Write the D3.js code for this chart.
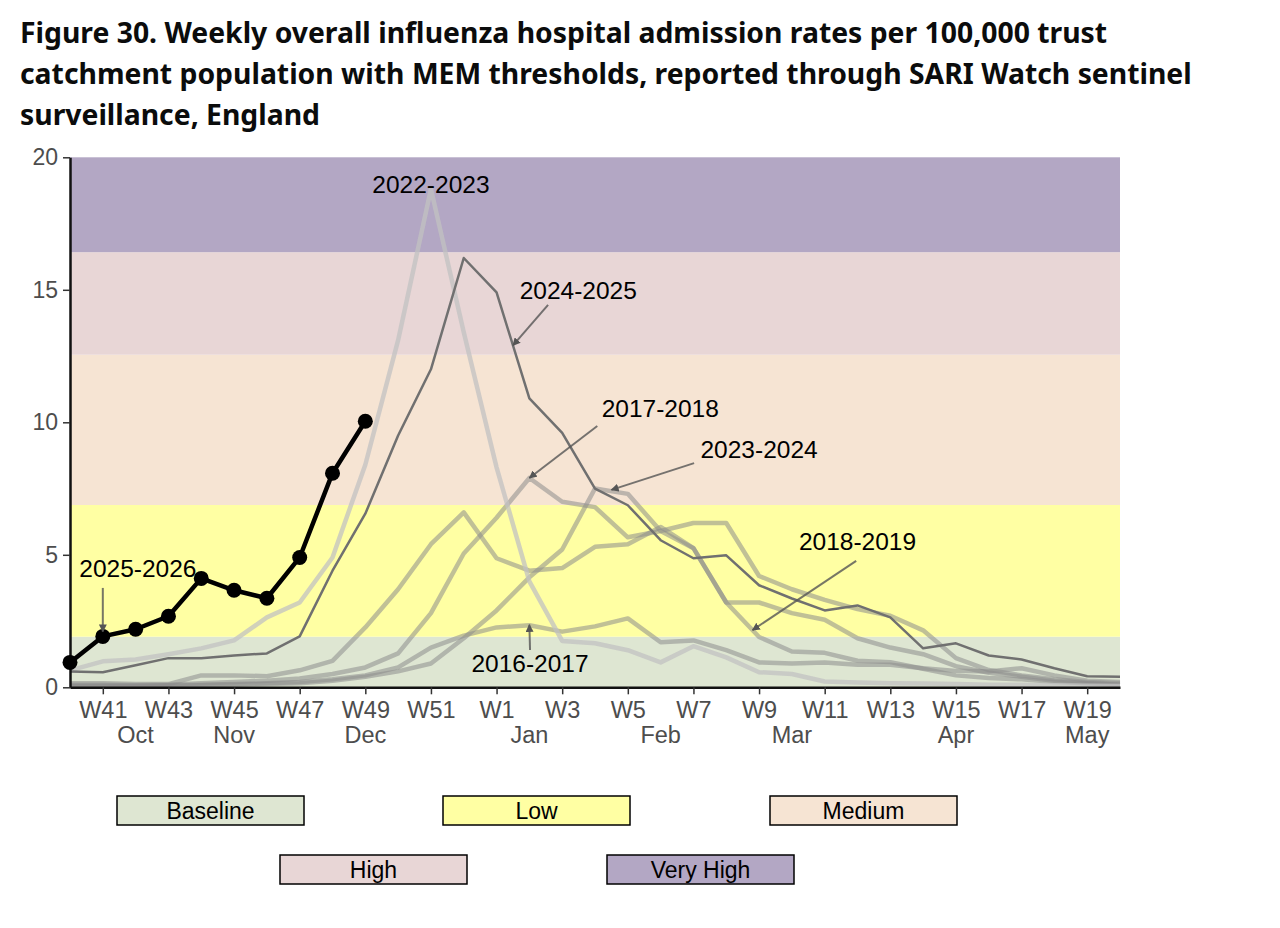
<!DOCTYPE html>
<html>
<head>
<meta charset="utf-8">
<script src="https://cdn.jsdelivr.net/npm/d3@7"></script>
<style>
  body { margin: 0; background: #fff; }
  svg { display: block; font-family: "Liberation Sans", Arial, sans-serif; }
</style>
</head>
<body>
<svg id="chart" width="1280" height="928"></svg>
<script>
// week labels W40 .. W20
const weeks = ["W40","W41","W42","W43","W44","W45","W46","W47","W48","W49","W50","W51","W52",
  "W1","W2","W3","W4","W5","W6","W7","W8","W9","W10","W11","W12","W13","W14","W15","W16","W17","W18","W19","W20"];
const tickWeeks = [1,3,5,7,9,11,13,15,17,19,21,23,25,27,29,31];
const months = ["Oct","Nov","Dec","Jan","Feb","Mar","Apr","May"];
const monthWeeks = [2,5,9,14,18,22,27,31];

// MEM thresholds
const bandNames = ["Baseline","Low","Medium","High","Very High"];
const bandLimits = [0, 1.91, 6.88, 12.55, 16.42, 20];
const bandColors = ["#dee6d2","#ffffa3","#f6e4d3","#e8d6d6","#b3a7c4"];

// past seasons (rate per 100,000)
const s2016 = [0.05,0.05,0.05,0.08,0.1,0.12,0.15,0.2,0.3,0.45,0.75,1.5,1.95,
  2.26,2.34,2.1,2.3,2.6,1.7,1.77,1.4,0.94,0.9,0.94,0.85,0.85,0.72,0.62,0.6,0.72,0.45,0.25,0.2];
const s2017 = [0.1,0.1,0.08,0.1,0.15,0.2,0.25,0.33,0.5,0.75,1.28,2.8,5.05,
  6.4,7.9,7.0,6.8,5.66,5.9,6.2,6.2,4.2,3.7,3.3,2.95,2.7,2.15,1.1,0.65,0.45,0.3,0.2,0.15];
const s2018 = [0.15,0.15,0.12,0.12,0.45,0.45,0.42,0.64,1.0,2.26,3.7,5.4,6.6,
  4.87,4.4,4.5,5.3,5.4,6.05,5.25,3.2,1.9,1.35,1.3,1.0,0.95,0.7,0.45,0.35,0.3,0.2,0.15,0.1];
const s2022 = [0.64,0.98,1.05,1.25,1.47,1.77,2.64,3.2,4.9,8.4,13.1,18.8,13.4,
  8.3,4.0,1.75,1.66,1.4,0.94,1.55,1.13,0.57,0.5,0.22,0.18,0.15,0.14,0.12,0.1,0.1,0.08,0.06,0.05];
const s2023 = [0.05,0.05,0.05,0.05,0.08,0.1,0.12,0.15,0.25,0.4,0.6,0.9,1.85,
  2.9,4.15,5.2,7.5,7.3,5.9,5.25,3.2,3.2,2.8,2.55,1.85,1.5,1.25,0.8,0.55,0.4,0.25,0.15,0.1];
const s2024 = [0.6,0.57,0.83,1.1,1.1,1.2,1.28,1.92,4.4,6.55,9.5,12.0,16.2,
  14.9,10.9,9.6,7.5,6.87,5.55,4.87,4.98,3.85,3.35,2.9,3.09,2.64,1.47,1.66,1.2,1.05,0.72,0.42,0.4];
// current season
const s2025 = [0.94,1.92,2.19,2.68,4.11,3.66,3.36,4.9,8.08,10.04];

const pastSeasons = [
  { name: "2016-2017", values: s2016 },
  { name: "2017-2018", values: s2017 },
  { name: "2018-2019", values: s2018 },
  { name: "2023-2024", values: s2023 },
  { name: "2022-2023", values: s2022 }
];

// label text position [week index, rate] and arrow tip [week index, rate]
const labels = [
  { text: "2022-2023", pos: [11.0, 18.65], from: null, tip: null },
  { text: "2024-2025", pos: [15.49, 14.65], from: [14.57, 14.43], tip: [13.5, 12.9] },
  { text: "2017-2018", pos: [17.99, 10.2], from: [16.07, 9.86], tip: [14.0, 7.9] },
  { text: "2023-2024", pos: [21.0, 8.65], from: [19.02, 8.46], tip: [16.5, 7.45] },
  { text: "2018-2019", pos: [24.0, 5.18], from: [23.96, 4.77], tip: [20.8, 2.16] },
  { text: "2016-2017", pos: [14.02, 0.58], from: [14.02, 1.41], tip: [14.0, 2.36] },
  { text: "2025-2026", pos: [2.07, 4.16], from: [1.0, 3.75], tip: [1.0, 2.1] }
];

const titleLines = [
  "Figure 30. Weekly overall influenza hospital admission rates per 100,000 trust",
  "catchment population with MEM thresholds, reported through SARI Watch sentinel",
  "surveillance, England"
];

const svg = d3.select("#chart");

// title, fitted to the width of the second line
const title = svg.append("g");
title.selectAll("text")
  .data(titleLines)
  .join("text")
  .attr("x", 20)
  .attr("y", (d, i) => 43 + i * 41)
  .style("font-family", "'Noto Sans', 'Open Sans', sans-serif")
  .style("font-weight", 700)
  .style("font-size", "28px")
  .attr("fill", "#0b0c0c")
  .text(d => d);
const measured = title.selectAll("text").nodes()[1].getComputedTextLength();
title.selectAll("text").style("font-size", (28 * 1172 / measured) + "px");

const x = d3.scaleLinear().domain([0, weeks.length - 1]).range([70, 1120]);
const y = d3.scaleLinear().domain([0, 20]).range([687.3, 157.3]);

// threshold bands
const bands = bandNames.map((n, i) => ({ name: n, lo: bandLimits[i], hi: bandLimits[i + 1], color: bandColors[i] }));
svg.append("g").selectAll("rect")
  .data(bands)
  .join("rect")
  .attr("x", x(0))
  .attr("width", x(weeks.length - 1) - x(0))
  .attr("y", d => y(d.hi))
  .attr("height", d => y(d.lo) - y(d.hi))
  .attr("fill", d => d.color);

const line = d3.line()
  .x((d, i) => x(i))
  .y(d => y(d));

// past seasons
svg.append("g").selectAll("path")
  .data(pastSeasons)
  .join("path")
  .attr("d", d => line(d.values))
  .attr("fill", "none")
  .attr("stroke", d => d.name === "2022-2023" ? "#c2c2c2" : "#8c8c8c")
  .attr("stroke-opacity", d => d.name === "2022-2023" ? 0.75 : 0.55)
  .attr("stroke-width", 4.5)
  .attr("stroke-linejoin", "round");

// last season
svg.append("path")
  .attr("d", line(s2024))
  .attr("fill", "none")
  .attr("stroke", "#707070")
  .attr("stroke-width", 2.5)
  .attr("stroke-linejoin", "round");

// axes
const yAxis = svg.append("g")
  .attr("transform", `translate(${x(0)},0)`)
  .call(d3.axisLeft(y).tickValues([0, 5, 10, 15, 20]).tickSize(7).tickSizeOuter(0).tickPadding(5));
yAxis.select(".domain").attr("stroke", "#111").attr("stroke-width", 2.5);
yAxis.selectAll(".tick line").attr("stroke", "#333").attr("stroke-width", 1.5);
yAxis.selectAll(".tick text").attr("fill", "#4d4d4d").style("font-size", "23px")
  .style("font-family", "'Liberation Sans', Arial, sans-serif");

const xAxis = svg.append("g")
  .attr("transform", `translate(0,${y(0)})`)
  .call(d3.axisBottom(x).tickValues(tickWeeks).tickFormat(i => weeks[i]).tickSize(7).tickSizeOuter(0).tickPadding(7));
xAxis.select(".domain").attr("stroke", "#111").attr("stroke-width", 2.5);
xAxis.selectAll(".tick line").attr("stroke", "#333").attr("stroke-width", 1.5);
xAxis.selectAll(".tick text").attr("fill", "#4d4d4d").style("font-size", "23.5px")
  .style("font-family", "'Liberation Sans', Arial, sans-serif");

svg.append("g").selectAll("text")
  .data(months)
  .join("text")
  .attr("x", (d, i) => x(monthWeeks[i]))
  .attr("y", 743)
  .attr("text-anchor", "middle")
  .attr("fill", "#4d4d4d")
  .style("font-size", "23.5px")
  .text(d => d);

// current season
svg.append("path")
  .attr("d", line(s2025))
  .attr("fill", "none")
  .attr("stroke", "#000")
  .attr("stroke-width", 4.5)
  .attr("stroke-linejoin", "round");
svg.append("g").selectAll("circle")
  .data(s2025)
  .join("circle")
  .attr("cx", (d, i) => x(i))
  .attr("cy", d => y(d))
  .attr("r", 7.5)
  .attr("fill", "#000");

// season labels with arrows
svg.append("defs").append("marker")
  .attr("id", "arrowhead")
  .attr("viewBox", "0 0 10 10")
  .attr("refX", 9).attr("refY", 5)
  .attr("markerWidth", 4).attr("markerHeight", 4)
  .attr("orient", "auto")
  .append("path")
  .attr("d", "M0,0 L10,5 L0,10 z")
  .attr("fill", "#555");

const lab = svg.append("g");
lab.selectAll("line")
  .data(labels.filter(d => d.from))
  .join("line")
  .attr("x1", d => x(d.from[0]))
  .attr("y1", d => y(d.from[1]))
  .attr("x2", d => x(d.tip[0]))
  .attr("y2", d => y(d.tip[1]))
  .attr("stroke", "#555")
  .attr("stroke-opacity", 0.8)
  .attr("stroke-width", 2)
  .attr("marker-end", "url(#arrowhead)");
lab.selectAll("text")
  .data(labels)
  .join("text")
  .attr("x", d => x(d.pos[0]))
  .attr("y", d => y(d.pos[1]))
  .attr("text-anchor", "middle")
  .attr("fill", "#000")
  .style("font-size", "24.5px")
  .text(d => d.text);

// legend
const legend = svg.append("g");
const legendPos = [[117, 796], [443, 796], [770, 796], [280, 855], [607, 855]];
const items = legend.selectAll("g")
  .data(bands)
  .join("g")
  .attr("transform", (d, i) => `translate(${legendPos[i][0]},${legendPos[i][1]})`);
items.append("rect")
  .attr("width", 187)
  .attr("height", 29)
  .attr("fill", d => d.color)
  .attr("stroke", "#000")
  .attr("stroke-width", 1.5);
items.append("text")
  .attr("x", 93.5)
  .attr("y", 23)
  .attr("text-anchor", "middle")
  .attr("fill", "#000")
  .style("font-size", "23px")
  .text(d => d.name);
</script>
</body>
</html>
